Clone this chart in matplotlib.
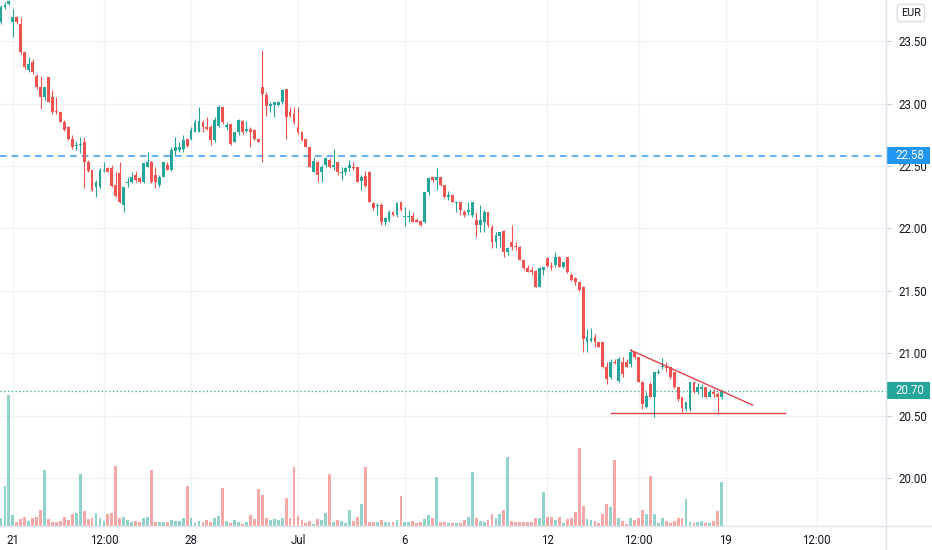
import numpy as np
import matplotlib.pyplot as plt
from matplotlib.lines import Line2D
from matplotlib.patches import Rectangle
from matplotlib.transforms import blended_transform_factory

plt.rcParams['font.family'] = ['Roboto', 'DejaVu Sans']

# hourly candles, 18 Jun - 19 Jul (EUR)
opens = [
    23.65, 23.77, 23.80, 23.65, 23.69, 23.64, 23.41, 23.27, 23.33, 23.22,
    23.13, 23.05, 23.21, 23.05, 22.94, 22.93, 22.85, 22.81, 22.72, 22.66,
    22.67, 22.69, 22.53, 22.47, 22.33, 22.33, 22.46, 22.48, 22.48, 22.35,
    22.44, 22.19, 22.36, 22.37, 22.43, 22.40, 22.37, 22.49, 22.53, 22.43,
    22.35, 22.41, 22.51, 22.47, 22.62, 22.63, 22.64, 22.72, 22.72, 22.77,
    22.77, 22.85, 22.81, 22.81, 22.71, 22.82, 22.97, 22.81, 22.84, 22.69,
    22.77, 22.86, 22.78, 22.80, 22.79, 22.72, 23.13, 23.07, 22.98, 22.99,
    22.99, 23.01, 23.12, 22.93, 22.92, 22.81, 22.77, 22.72, 22.65, 22.45,
    22.53, 22.45, 22.51, 22.55, 22.49, 22.53, 22.44, 22.45, 22.48, 22.49,
    22.49, 22.38, 22.42, 22.45, 22.20, 22.18, 22.19, 22.05, 22.07, 22.13,
    22.11, 22.21, 22.09, 22.09, 22.10, 22.07, 22.06, 22.05, 22.29, 22.41,
    22.39, 22.41, 22.35, 22.25, 22.27, 22.20, 22.21, 22.13, 22.13, 22.11,
    22.07, 22.03, 22.05, 22.13, 22.01, 21.89, 21.94, 21.98, 21.81, 21.89,
    21.86, 21.85, 21.75, 21.68, 21.67, 21.66, 21.53, 21.67, 21.76, 21.70,
    21.71, 21.77, 21.69, 21.77, 21.63, 21.60, 21.57, 21.53, 21.09, 21.10,
    21.13, 21.09, 21.09, 20.89, 20.81, 20.93, 20.78, 20.93, 20.93, 20.91,
    21.01, 20.97, 20.77, 20.57, 20.75, 20.65, 20.84, 20.89, 20.89, 20.89,
    20.85, 20.73, 20.65, 20.55, 20.55, 20.77, 20.69, 20.71, 20.73, 20.65,
    20.69, 20.67, 20.65,
]
highs = [
    23.79, 23.81, 23.83, 23.76, 23.70, 23.69, 23.41, 23.37, 23.36, 23.24,
    23.22, 23.13, 23.21, 23.11, 23.05, 22.93, 22.87, 22.82, 22.75, 22.70,
    22.73, 22.73, 22.55, 22.47, 22.39, 22.48, 22.53, 22.49, 22.51, 22.45,
    22.53, 22.33, 22.41, 22.45, 22.46, 22.41, 22.52, 22.61, 22.54, 22.49,
    22.43, 22.53, 22.53, 22.65, 22.73, 22.69, 22.75, 22.72, 22.81, 22.88,
    22.97, 22.87, 22.89, 22.83, 22.89, 22.99, 22.97, 22.85, 22.84, 22.77,
    22.88, 22.87, 22.86, 22.81, 22.80, 22.72, 23.43, 23.09, 23.01, 23.01,
    23.02, 23.12, 23.12, 22.97, 22.97, 22.97, 22.77, 22.72, 22.65, 22.57,
    22.54, 22.51, 22.57, 22.56, 22.64, 22.53, 22.49, 22.49, 22.55, 22.53,
    22.49, 22.43, 22.46, 22.46, 22.21, 22.20, 22.20, 22.09, 22.15, 22.14,
    22.21, 22.21, 22.17, 22.15, 22.13, 22.08, 22.07, 22.29, 22.41, 22.41,
    22.48, 22.41, 22.35, 22.30, 22.27, 22.22, 22.21, 22.15, 22.21, 22.21,
    22.13, 22.19, 22.15, 22.13, 22.03, 21.97, 21.97, 21.99, 21.85, 22.03,
    21.89, 21.86, 21.75, 21.71, 21.69, 21.67, 21.69, 21.69, 21.77, 21.73,
    21.81, 21.78, 21.73, 21.77, 21.64, 21.61, 21.57, 21.54, 21.19, 21.20,
    21.15, 21.09, 21.09, 20.93, 20.95, 20.95, 20.97, 20.97, 20.95, 21.03,
    21.02, 20.97, 20.78, 20.69, 20.77, 20.85, 20.87, 20.96, 20.93, 20.89,
    20.85, 20.73, 20.65, 20.61, 20.77, 20.77, 20.76, 20.75, 20.73, 20.71,
    20.71, 20.69, 20.71,
]
lows = [
    23.64, 23.76, 23.79, 23.53, 23.64, 23.40, 23.28, 23.25, 23.24, 23.12,
    22.96, 23.03, 23.01, 22.92, 22.92, 22.85, 22.78, 22.71, 22.64, 22.63,
    22.60, 22.32, 22.45, 22.30, 22.25, 22.32, 22.45, 22.45, 22.33, 22.25,
    22.20, 22.13, 22.33, 22.36, 22.37, 22.36, 22.36, 22.49, 22.36, 22.32,
    22.33, 22.41, 22.47, 22.46, 22.59, 22.61, 22.61, 22.65, 22.71, 22.77,
    22.77, 22.77, 22.79, 22.67, 22.69, 22.81, 22.84, 22.79, 22.67, 22.69,
    22.75, 22.76, 22.77, 22.65, 22.71, 22.69, 22.53, 22.90, 22.93, 22.89,
    22.98, 23.00, 22.72, 22.89, 22.84, 22.76, 22.70, 22.65, 22.49, 22.45,
    22.37, 22.37, 22.49, 22.48, 22.47, 22.43, 22.39, 22.43, 22.46, 22.47,
    22.37, 22.31, 22.33, 22.21, 22.15, 22.11, 22.03, 22.03, 22.05, 22.10,
    22.09, 22.14, 22.02, 22.05, 22.05, 22.05, 22.02, 22.04, 22.27, 22.37,
    22.31, 22.34, 22.24, 22.23, 22.21, 22.13, 22.11, 22.09, 22.11, 22.09,
    21.93, 21.97, 21.97, 22.01, 21.84, 21.84, 21.85, 21.77, 21.79, 21.83,
    21.83, 21.75, 21.67, 21.65, 21.63, 21.53, 21.53, 21.63, 21.69, 21.67,
    21.69, 21.69, 21.68, 21.64, 21.58, 21.55, 21.50, 21.01, 21.01, 21.09,
    21.05, 21.05, 20.88, 20.75, 20.79, 20.91, 20.77, 20.81, 20.89, 20.89,
    20.95, 20.77, 20.55, 20.56, 20.65, 20.49, 20.83, 20.87, 20.85, 20.79,
    20.72, 20.62, 20.53, 20.54, 20.54, 20.68, 20.67, 20.65, 20.64, 20.65,
    20.65, 20.51, 20.63,
]
closes = [
    23.77, 23.79, 23.82, 23.69, 23.65, 23.41, 23.29, 23.32, 23.25, 23.13,
    23.05, 23.13, 23.01, 22.93, 22.93, 22.85, 22.79, 22.72, 22.65, 22.67,
    22.68, 22.53, 22.46, 22.31, 22.37, 22.47, 22.47, 22.45, 22.34, 22.26,
    22.21, 22.33, 22.37, 22.41, 22.39, 22.37, 22.52, 22.53, 22.37, 22.37,
    22.41, 22.53, 22.47, 22.63, 22.65, 22.65, 22.71, 22.66, 22.79, 22.85,
    22.86, 22.81, 22.80, 22.71, 22.87, 22.97, 22.85, 22.83, 22.68, 22.77,
    22.87, 22.77, 22.80, 22.77, 22.72, 22.69, 23.08, 22.98, 23.00, 23.01,
    23.01, 23.11, 22.89, 22.90, 22.85, 22.77, 22.71, 22.65, 22.49, 22.54,
    22.43, 22.49, 22.56, 22.49, 22.51, 22.45, 22.45, 22.48, 22.51, 22.48,
    22.37, 22.41, 22.34, 22.21, 22.16, 22.19, 22.05, 22.08, 22.13, 22.11,
    22.20, 22.15, 22.10, 22.10, 22.05, 22.05, 22.03, 22.29, 22.40, 22.39,
    22.41, 22.35, 22.25, 22.27, 22.21, 22.21, 22.15, 22.11, 22.15, 22.21,
    22.03, 22.07, 22.13, 22.03, 21.89, 21.95, 21.97, 21.81, 21.84, 21.85,
    21.85, 21.75, 21.68, 21.65, 21.65, 21.53, 21.68, 21.69, 21.70, 21.69,
    21.77, 21.69, 21.73, 21.65, 21.59, 21.57, 21.51, 21.11, 21.13, 21.12,
    21.09, 21.05, 20.89, 20.79, 20.93, 20.92, 20.95, 20.83, 20.89, 21.01,
    20.97, 20.77, 20.59, 20.66, 20.65, 20.85, 20.85, 20.89, 20.88, 20.81,
    20.73, 20.63, 20.56, 20.61, 20.77, 20.69, 20.73, 20.73, 20.65, 20.69,
    20.67, 20.65, 20.70,
]
# volume in thousands of shares
volume = [
    8, 40, 131, 11, 4, 7, 9, 5, 8, 9,
    16, 56, 7, 4, 4, 5, 9, 6, 12, 13,
    52, 15, 7, 8, 13, 8, 5, 12, 13, 60,
    8, 9, 6, 4, 5, 4, 8, 9, 56, 4,
    4, 4, 4, 6, 5, 5, 8, 40, 8, 3,
    5, 4, 6, 4, 8, 10, 38, 5, 3, 6,
    4, 2, 4, 11, 7, 37, 31, 8, 6, 7,
    6, 8, 28, 8, 59, 10, 6, 3, 5, 2,
    7, 6, 13, 52, 4, 6, 5, 3, 16, 5,
    9, 22, 59, 4, 4, 4, 6, 4, 4, 4,
    6, 30, 4, 4, 5, 3, 4, 7, 11, 8,
    49, 4, 4, 3, 3, 3, 3, 6, 9, 54,
    8, 5, 4, 6, 12, 8, 12, 16, 69, 5,
    4, 4, 4, 4, 4, 8, 8, 34, 9, 9,
    6, 9, 3, 7, 8, 14, 78, 20, 7, 6,
    5, 3, 12, 22, 19, 66, 8, 5, 2, 8,
    6, 8, 16, 12, 50, 12, 3, 8, 5, 3,
    5, 8, 8, 27, 4, 3, 4, 5, 3, 3,
    5, 15, 44,
]

price_ticks = [20.0, 20.5, 21.0, 21.5, 22.0, 22.5, 23.0, 23.5]
time_ticks = [3, 26, 48, 75, 102, 138, 161, 183, 206]
time_labels = ['21', '12:00', '28', 'Jul', '6', '12', '12:00', '19', '12:00']

alert_price = 22.58
last_price = 20.70
trend_x = [159.0, 189.8]
trend_y = [21.024, 20.584]
support_x = [154.0, 198.0]
support_y = 20.523

UP = '#26a69a'
DOWN = '#ef5350'
TEXT = '#131722'
LINE = '#e0e3eb'

fig = plt.figure(figsize=(9.32, 5.5), dpi=100)
rect = [0, 24 / 550, 886 / 932, 526 / 550]
ax = fig.add_axes(rect)
ax_vol = fig.add_axes(rect, sharex=ax)
ax_vol.axis('off')

idx = np.arange(len(opens))
o = np.array(opens)
c = np.array(closes)
colors = np.where(c >= o, UP, DOWN)

# volume underneath
ax_vol.bar(idx, volume, width=0.72, color=colors, alpha=0.5, linewidth=0)
ax_vol.set_ylim(0, max(volume) * 4.0)

# candles
ax.vlines(idx, lows, highs, colors=colors, linewidth=0.8, zorder=3)
ax.bar(idx, np.maximum(np.abs(c - o), 0.01), bottom=np.minimum(o, c),
       width=0.72, color=colors, linewidth=0, zorder=4)

# horizontal levels
ax.axhline(alert_price, color='#4aa3ef', linewidth=1.2, linestyle=(0, (4, 3)), zorder=2)
ax.axhline(last_price, color=UP, linewidth=0.9, linestyle=(0, (1, 2)), zorder=2)

# triangle drawing
ax.plot(trend_x, trend_y, color='#e5434b', linewidth=1.0, zorder=5)
ax.plot(support_x, [support_y, support_y], color='#e5434b', linewidth=1.0, zorder=5)

ax.set_xlim(-0.25, 223.5)
ax.set_ylim(19.615, 23.83)

ax.set_yticks(price_ticks)
ax.set_yticklabels([f'{p:.2f}' for p in price_ticks])
ax.yaxis.tick_right()
ax.tick_params(axis='y', length=4, color='#d1d4dc', pad=5, labelsize=8.3, labelcolor=TEXT)
ax.set_xticks(time_ticks)
ax.set_xticklabels(time_labels)
ax.tick_params(axis='x', length=0, pad=6, labelsize=8.3, labelcolor=TEXT)
ax.grid(color='#eef1f5', linewidth=0.9)
ax.set_axisbelow(True)
for s in ax.spines.values():
    s.set_visible(False)

# price labels on the scale
trans = blended_transform_factory(ax.transAxes, ax.transData)
box_h = 17 / 124.8
for price, col in [(alert_price, '#2196f3'), (last_price, UP)]:
    ax.add_patch(Rectangle((1.0, price - box_h / 2), 44 / 886, box_h, transform=trans,
                           facecolor=col, edgecolor='none', clip_on=False, zorder=10))
    ax.text(1.0 + 9.5 / 886, price, f'{price:.2f}', transform=trans, color='white',
            fontsize=8.3, ha='left', va='center', clip_on=False, zorder=11)

# scale borders
fig.add_artist(Line2D([886 / 932, 886 / 932], [0, 1], transform=fig.transFigure, color=LINE, linewidth=1))
fig.add_artist(Line2D([0, 1], [24 / 550, 24 / 550], transform=fig.transFigure, color=LINE, linewidth=1))

fig.text(911 / 932, 1 - 13 / 550, 'EUR', ha='center', va='center', fontsize=7.8, color=TEXT,
         bbox=dict(boxstyle='round,pad=0.35,rounding_size=0.35', fc='white', ec='#d1d4dc', lw=0.8))

fig.savefig('out.png', dpi=100)
